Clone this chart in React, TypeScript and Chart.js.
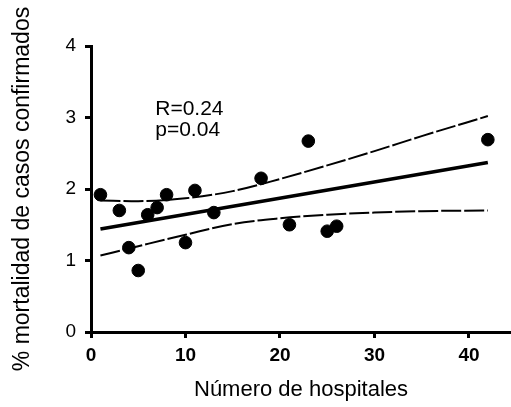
import React, { useEffect, useRef } from 'react';
import { Chart, registerables } from 'chart.js';

Chart.register(...registerables);

// Data
const hospitals = [1, 3, 4, 5, 6, 7, 8, 10, 11, 13, 18, 21, 23, 25, 26, 42];
const mortality = [1.92, 1.70, 1.18, 0.86, 1.64, 1.74, 1.92, 1.25, 1.98, 1.67, 2.15, 1.50, 2.67, 1.41, 1.48, 2.69];
const fitX = [1, 42];
const fitY = [1.44, 2.37];
const bandX = [1, 5, 10, 15, 20, 25, 30, 35, 42];
const upperY = [1.84, 1.83, 1.87, 1.97, 2.14, 2.33, 2.53, 2.74, 3.02];
const lowerY = [1.07, 1.20, 1.36, 1.51, 1.59, 1.64, 1.67, 1.69, 1.70];
const xTicks = [0, 10, 20, 30, 40];
const yTicks = [0, 1, 2, 3, 4];
const statLabels = ['R=0.24', 'p=0.04'];
const xTitle = 'Número de hospitales';
const yTitle = '% mortalidad de casos confirmados';

const FONT = '"Liberation Sans", Arial, sans-serif';

const statPlugin = {
  id: 'statText',
  afterDatasetsDraw(chart: any) {
    const { ctx, scales } = chart;
    const xs = scales.x;
    const ys = scales.y;
    const anchorX = 6.8;
    const anchorY = [3.04, 2.74];
    ctx.save();
    ctx.fillStyle = '#000';
    ctx.font = `21px ${FONT}`;
    ctx.textAlign = 'left';
    ctx.textBaseline = 'alphabetic';
    statLabels.forEach((t, i) => {
      ctx.fillText(t, xs.getPixelForValue(anchorX), ys.getPixelForValue(anchorY[i]));
    });
    ctx.restore();
  },
};

export default function App() {
  const ref = useRef<HTMLCanvasElement | null>(null);

  useEffect(() => {
    if (!ref.current) return;
    const chart = new Chart(ref.current, {
      type: 'scatter',
      data: {
        datasets: [
          {
            type: 'line',
            data: bandX.map((x, i) => ({ x, y: upperY[i] })),
            borderColor: '#000',
            borderWidth: 2,
            borderDash: [20, 3],
            pointRadius: 0,
            cubicInterpolationMode: 'monotone',
            fill: false,
          } as any,
          {
            type: 'line',
            data: bandX.map((x, i) => ({ x, y: lowerY[i] })),
            borderColor: '#000',
            borderWidth: 2,
            borderDash: [20, 3],
            pointRadius: 0,
            cubicInterpolationMode: 'monotone',
            fill: false,
          } as any,
          {
            type: 'line',
            data: fitX.map((x, i) => ({ x, y: fitY[i] })),
            borderColor: '#000',
            borderWidth: 3.5,
            pointRadius: 0,
            fill: false,
          } as any,
          {
            type: 'scatter',
            data: hospitals.map((x, i) => ({ x, y: mortality[i] })),
            backgroundColor: '#000',
            borderColor: '#000',
            pointRadius: 6.3,
            pointHoverRadius: 6.3,
          },
        ],
      },
      options: {
        responsive: false,
        animation: false,
        events: [],
        layout: { autoPadding: false, padding: { top: 46, left: 0, right: 0, bottom: 0 } },
        plugins: {
          legend: { display: false },
          tooltip: { enabled: false },
        },
        scales: {
          x: {
            type: 'linear',
            min: 0,
            max: 44.45,
            afterBuildTicks: (axis: any) => {
              axis.ticks = xTicks.map((v) => ({ value: v }));
            },
            afterFit: (axis: any) => {
              axis.height = 75;
              axis.paddingRight = 0;
              axis.paddingLeft = 0;
            },
            grid: {
              display: true,
              drawOnChartArea: false,
              drawTicks: true,
              tickLength: 6,
              tickWidth: 3,
              tickColor: '#000',
              color: '#000',
              lineWidth: 3,
            },
            border: { display: true, color: '#000', width: 3 },
            ticks: {
              color: '#000',
              padding: 6,
              font: { family: FONT, size: 19, weight: 'bold' },
              maxRotation: 0,
            },
            title: {
              display: true,
              text: xTitle,
              color: '#000',
              font: { family: FONT, size: 22 },
              padding: { top: 0, bottom: 4 },
            },
          },
          y: {
            type: 'linear',
            min: 0,
            max: 4,
            afterBuildTicks: (axis: any) => {
              axis.ticks = yTicks.map((v) => ({ value: v }));
            },
            afterFit: (axis: any) => {
              axis.width = 91;
            },
            grid: {
              display: true,
              drawOnChartArea: false,
              drawTicks: true,
              tickLength: 6,
              tickWidth: 3,
              tickColor: '#000',
              color: '#000',
              lineWidth: 3,
            },
            border: { display: true, color: '#000', width: 3 },
            ticks: {
              color: '#000',
              padding: 9,
              font: { family: FONT, size: 19 },
            },
            title: {
              display: true,
              text: yTitle,
              color: '#000',
              font: { family: FONT, size: 23 },
              padding: { top: 9, bottom: 0 },
            },
          },
        },
      },
      plugins: [statPlugin],
    });
    return () => chart.destroy();
  }, []);

  return (
    <div style={{ position: 'absolute', left: 0, top: 0, width: 511, height: 407, background: '#fff' }}>
      <canvas ref={ref} width={511} height={407} style={{ display: 'block' }} />
    </div>
  );
}
